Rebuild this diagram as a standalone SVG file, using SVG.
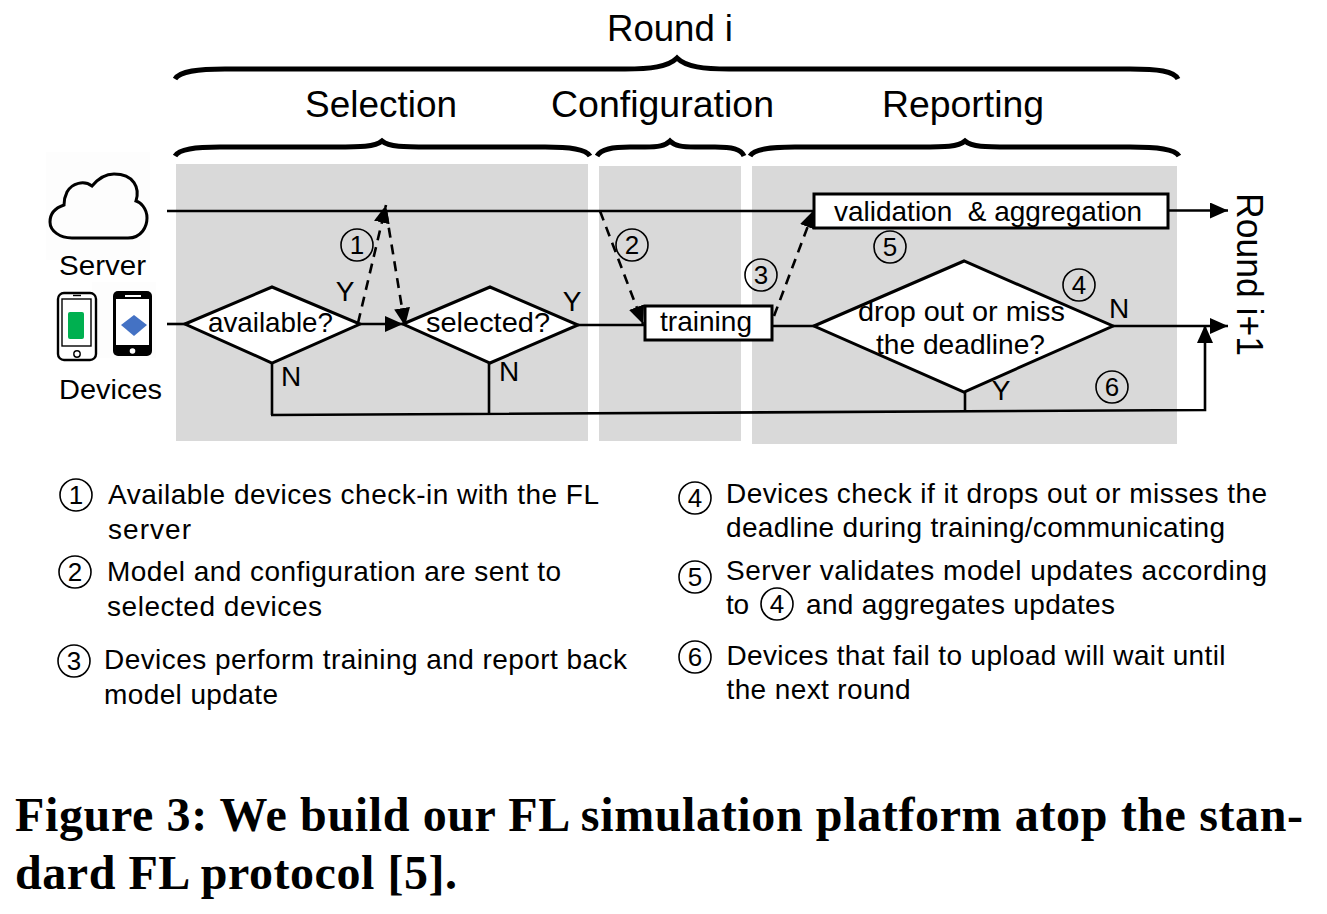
<svg xmlns="http://www.w3.org/2000/svg" width="1327" height="914" viewBox="0 0 1327 914">
<style>
text{font-family:"Liberation Sans",Arial,sans-serif;fill:#000}
.t36{font-size:36px}.t29{font-size:28px}.t28{font-size:28px}
.ctr{text-anchor:middle}
.cap{font-family:"Liberation Serif","Times New Roman",serif;font-weight:700;font-size:48px}
.c{fill:none;stroke:#000;stroke-width:2.6}
.d{fill:none;stroke:#000;stroke-width:2.6;stroke-dasharray:10 7}
.b{fill:none;stroke:#000;stroke-width:5}
.n{fill:#fff;stroke:#000;stroke-width:3}
.num circle{fill:none;stroke:#000;stroke-width:1.6}
.num text{font-size:26px;text-anchor:middle}
.bg{fill:#d9d9d9}
</style>
<defs>
<marker id="a" markerUnits="userSpaceOnUse" markerWidth="20" markerHeight="18" refX="18" refY="8" orient="auto"><path d="M0 0L18 8L0 16Z" fill="#000"/></marker>
</defs>
<rect width="1327" height="914" fill="#fff"/>
<g id="panels">
<rect class="bg" x="176" y="164" width="412" height="277"/>
<rect class="bg" x="599" y="166" width="142" height="275"/>
<rect class="bg" x="752" y="166" width="425" height="278"/>
</g>
<g id="braces">
<path class="b" d="M175 79C180 71 198 69 225 69H625C650 69 668 67 677 58C686 67 704 69 729 69H1130C1158 69 1174 71 1178 79"/>
<path class="b" d="M175 156C179 149 195 147 220 147H335C360 147 375 147 382 141C389 147 404 147 429 147H545C570 147 586 149 590 156"/>
<path class="b" d="M597 156C601 149 612 147 630 147H645C658 147 665 146 670 141C675 146 682 147 695 147H715C732 147 741 149 744 156"/>
<path class="b" d="M750 156C754 149 770 147 795 147H920C945 147 958 147 965 141C972 147 985 147 1010 147H1130C1158 147 1175 149 1179 156"/>
</g>
<g id="titles">
<text class="t36" x="607" y="41" textLength="126" lengthAdjust="spacingAndGlyphs">Round i</text>
<text class="t36" x="305" y="117" textLength="152" lengthAdjust="spacingAndGlyphs">Selection</text>
<text class="t36" x="551" y="117" textLength="223" lengthAdjust="spacingAndGlyphs">Configuration</text>
<text class="t36" x="882" y="117" textLength="162" lengthAdjust="spacingAndGlyphs">Reporting</text>
<text class="t36" transform="translate(1237 193) rotate(90)" textLength="163" lengthAdjust="spacingAndGlyphs">Round i+1</text>
</g>
<g id="server">
<rect x="46" y="152" width="104" height="108" fill="#fdfdfd"/>
<path d="M72 238H128C142 238 147 226 147 218C147 208 140 202 136 201C140 188 134 174 114 174C104 174 97 180 92 186C84 180 72 183 67 192C64 198 64 201 64 205C55 208 50 214 50 222C50 231 60 238 72 238Z" fill="none" stroke="#000" stroke-width="3"/>
<text class="t29" x="59" y="275" textLength="87" lengthAdjust="spacingAndGlyphs">Server</text>
</g>
<g id="devices">
<rect x="92" y="282" width="64" height="76" fill="#fdfdfd"/>
<rect x="58" y="293" width="38" height="67" rx="6" fill="#fff" stroke="#000" stroke-width="2.4"/>
<rect x="62" y="299" width="29" height="47" fill="none" stroke="#000" stroke-width="1.4"/>
<path d="M73 295.500H81" stroke="#000" stroke-width="1.400"/>
<rect x="68" y="312" width="16" height="27" rx="2" fill="#00b050"/>
<circle cx="77" cy="354" r="3.200" fill="none" stroke="#000" stroke-width="1.400"/>
<rect x="113" y="291" width="39" height="65" rx="5" fill="#000"/>
<rect x="116" y="299" width="33" height="46" fill="#fff"/>
<path d="M125 296H141" stroke="#fff" stroke-width="2"/>
<path d="M121 325L134 315L147 325L134 336Z" fill="#4472c4"/>
<circle cx="132.500" cy="351" r="2.800" fill="#fff"/>
<text class="t29" x="59" y="399" textLength="103" lengthAdjust="spacingAndGlyphs">Devices</text>
</g>
<g id="connectors">
<path class="c" d="M167 211H814"/>
<path class="c" d="M1168 210.500H1228" marker-end="url(#a)"/>
<path class="c" d="M167 324H186"/>
<path class="c" d="M360 324H403" marker-end="url(#a)"/>
<path class="c" d="M578 325H645" />
<path class="c" d="M772 326H815"/>
<path class="c" d="M1113 326H1228" marker-end="url(#a)"/>
<path class="c" d="M272 363V415"/>
<path class="c" d="M489 363V413.500"/>
<path class="c" d="M965 392V411"/>
<path class="c" d="M271 415L1205 410V325" marker-end="url(#a)"/>
<path class="d" d="M358 323L386 205" marker-end="url(#a)"/>
<path class="d" d="M386 211L405 326" marker-end="url(#a)"/>
<path class="d" d="M600 211L643 324" marker-end="url(#a)"/>
<path class="d" d="M774 316L814 210" marker-end="url(#a)"/>
</g>
<g id="available">
<path class="n" d="M185 324L272 287L360 324L272 363Z"/>
<text class="t29" x="208" y="332" textLength="125" lengthAdjust="spacingAndGlyphs">available?</text>
</g>
<g id="selected">
<path class="n" d="M403 324L490 287L578 325L490 363Z"/>
<text class="t29" x="426" y="332" textLength="124" lengthAdjust="spacingAndGlyphs">selected?</text>
</g>
<g id="training">
<rect class="n" x="645" y="306" width="127" height="34"/>
<text class="t29" x="660" y="331" textLength="92" lengthAdjust="spacingAndGlyphs">training</text>
</g>
<g id="validation">
<rect class="n" x="814" y="194" width="354" height="34"/>
<text class="t29" x="834" y="221" textLength="308" lengthAdjust="spacingAndGlyphs" xml:space="preserve">validation  &amp; aggregation</text>
</g>
<g id="dropout">
<path class="n" d="M814 326L964 261L1113 326L964 392Z"/>
<text class="t29" x="858" y="321" textLength="207" lengthAdjust="spacingAndGlyphs">drop out or miss</text>
<text class="t29" x="876" y="354" textLength="169" lengthAdjust="spacingAndGlyphs">the deadline?</text>
</g>
<g id="branch-labels">
<text class="t29 ctr" x="345" y="301">Y</text>
<text class="t29 ctr" x="291" y="386">N</text>
<text class="t29 ctr" x="572" y="311">Y</text>
<text class="t29 ctr" x="509" y="381">N</text>
<text class="t29 ctr" x="1119" y="318">N</text>
<text class="t29 ctr" x="1001" y="400">Y</text>
</g>
<g id="markers" class="num">
<g><circle cx="357" cy="245" r="16"/><text x="357" y="254">1</text></g>
<g><circle cx="632" cy="245" r="16"/><text x="632" y="254">2</text></g>
<g><circle cx="761" cy="275" r="16"/><text x="761" y="284">3</text></g>
<g><circle cx="1079" cy="285" r="16"/><text x="1079" y="294">4</text></g>
<g><circle cx="890" cy="247" r="16"/><text x="890" y="256">5</text></g>
<g><circle cx="1112" cy="387" r="16"/><text x="1112" y="396">6</text></g>
</g>
<g id="legend">
<g class="num"><circle cx="76" cy="495" r="16"/><text x="76" y="504">1</text></g>
<text class="t28" x="108" y="504" textLength="491" lengthAdjust="spacing">Available devices check-in with the FL</text>
<text class="t28" x="108" y="539" textLength="83" lengthAdjust="spacing">server</text>
<g class="num"><circle cx="75" cy="572" r="16"/><text x="75" y="581">2</text></g>
<text class="t28" x="107" y="581" textLength="454" lengthAdjust="spacing">Model and configuration are sent to</text>
<text class="t28" x="107" y="616" textLength="215" lengthAdjust="spacing">selected devices</text>
<g class="num"><circle cx="74" cy="661" r="16"/><text x="74" y="670">3</text></g>
<text class="t28" x="104" y="669" textLength="523" lengthAdjust="spacing">Devices perform training and report back</text>
<text class="t28" x="104" y="704" textLength="174" lengthAdjust="spacing">model update</text>
<g class="num"><circle cx="695" cy="498" r="16"/><text x="695" y="507">4</text></g>
<text class="t28" x="726" y="503" textLength="541" lengthAdjust="spacing">Devices check if it drops out or misses the</text>
<text class="t28" x="726" y="537" textLength="499" lengthAdjust="spacing">deadline during training/communicating</text>
<g class="num"><circle cx="695" cy="577" r="16"/><text x="695" y="586">5</text></g>
<text class="t28" x="726" y="580" textLength="541" lengthAdjust="spacing">Server validates model updates according</text>
<text class="t28" x="726" y="614" textLength="23" lengthAdjust="spacing">to</text>
<g class="num"><circle cx="777" cy="604" r="16"/><text x="777" y="613">4</text></g>
<text class="t28" x="806" y="614" textLength="309" lengthAdjust="spacing">and aggregates updates</text>
<g class="num"><circle cx="695" cy="657" r="16"/><text x="695" y="666">6</text></g>
<text class="t28" x="726.500" y="665" textLength="499" lengthAdjust="spacing">Devices that fail to upload will wait until</text>
<text class="t28" x="726.500" y="699" textLength="184" lengthAdjust="spacing">the next round</text>
</g>
<g id="caption">
<text class="cap" x="15" y="831" textLength="1288" lengthAdjust="spacing">Figure 3: We build our FL simulation platform atop the stan-</text>
<text class="cap" x="15" y="889" textLength="442" lengthAdjust="spacing">dard FL protocol [5].</text>
</g>
</svg>
